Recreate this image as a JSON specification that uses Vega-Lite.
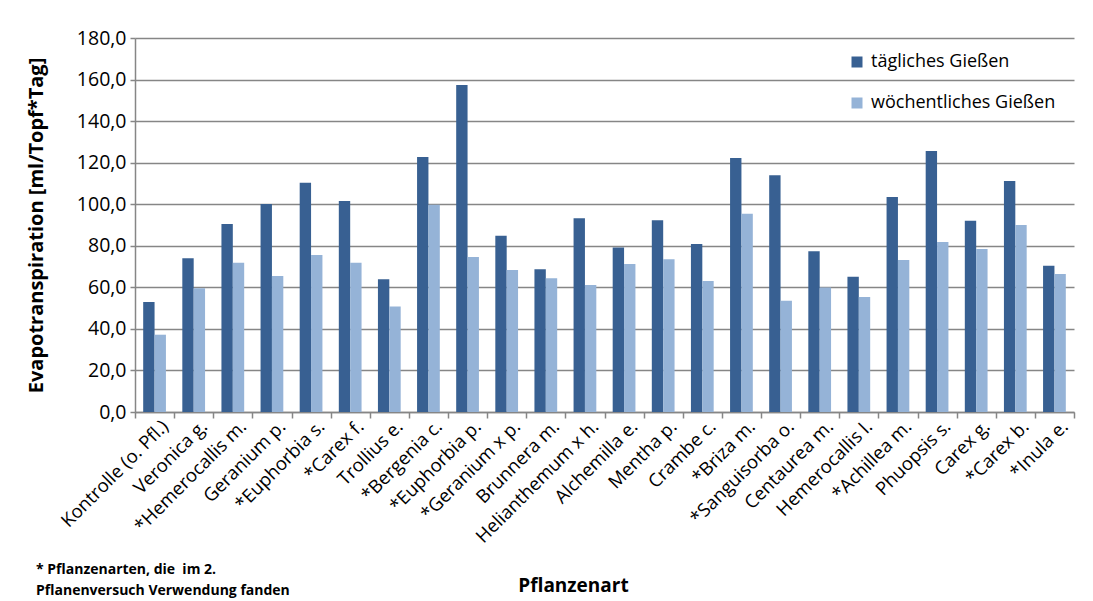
{
  "$schema": "https://vega.github.io/schema/vega-lite/v6.json",
  "width": 939,
  "height": 374,
  "autosize": {"type": "none"},
  "padding": {"left": 135, "top": 38, "right": 19, "bottom": 189},
  "background": "white",
  "config": {
    "locale": {"number": {"decimal": ",", "thousands": ".", "grouping": [3], "currency": ["", " €"]}},
    "font": "Open Sans",
    "view": {"stroke": null}
  },
  "title": {
    "text": ["* Pflanzenarten, die\u00a0 im 2.", "Pflanenversuch Verwendung fanden"],
    "orient": "bottom",
    "anchor": "start",
    "frame": "group",
    "dx": -99,
    "offset": -32,
    "font": "Open Sans",
    "fontSize": 14,
    "fontWeight": "bold",
    "lineHeight": 21,
    "color": "#000000"
  },
  "data": {
    "values": [
      {"art": "Kontrolle (o. Pfl.)", "serie": "tägliches Gießen", "wert": 53.0},
      {"art": "Kontrolle (o. Pfl.)", "serie": "wöchentliches Gießen", "wert": 37.2},
      {"art": "Veronica g.", "serie": "tägliches Gießen", "wert": 74.0},
      {"art": "Veronica g.", "serie": "wöchentliches Gießen", "wert": 59.5},
      {"art": "*Hemerocallis m.", "serie": "tägliches Gießen", "wert": 90.5},
      {"art": "*Hemerocallis m.", "serie": "wöchentliches Gießen", "wert": 71.8},
      {"art": "Geranium p.", "serie": "tägliches Gießen", "wert": 100.1},
      {"art": "Geranium p.", "serie": "wöchentliches Gießen", "wert": 65.4},
      {"art": "*Euphorbia s.", "serie": "tägliches Gießen", "wert": 110.3},
      {"art": "*Euphorbia s.", "serie": "wöchentliches Gießen", "wert": 75.6},
      {"art": "*Carex f.", "serie": "tägliches Gießen", "wert": 101.5},
      {"art": "*Carex f.", "serie": "wöchentliches Gießen", "wert": 71.8},
      {"art": "Trollius e.", "serie": "tägliches Gießen", "wert": 63.9},
      {"art": "Trollius e.", "serie": "wöchentliches Gießen", "wert": 50.8},
      {"art": "*Bergenia c.", "serie": "tägliches Gießen", "wert": 122.7},
      {"art": "*Bergenia c.", "serie": "wöchentliches Gießen", "wert": 99.7},
      {"art": "*Euphorbia p.", "serie": "tägliches Gießen", "wert": 157.4},
      {"art": "*Euphorbia p.", "serie": "wöchentliches Gießen", "wert": 74.6},
      {"art": "*Geranium x p.", "serie": "tägliches Gießen", "wert": 84.8},
      {"art": "*Geranium x p.", "serie": "wöchentliches Gießen", "wert": 68.4},
      {"art": "Brunnera m.", "serie": "tägliches Gießen", "wert": 68.7},
      {"art": "Brunnera m.", "serie": "wöchentliches Gießen", "wert": 64.4},
      {"art": "Helianthemum x h.", "serie": "tägliches Gießen", "wert": 93.2},
      {"art": "Helianthemum x h.", "serie": "wöchentliches Gießen", "wert": 61.1},
      {"art": "Alchemilla e.", "serie": "tägliches Gießen", "wert": 79.2},
      {"art": "Alchemilla e.", "serie": "wöchentliches Gießen", "wert": 71.2},
      {"art": "Mentha p.", "serie": "tägliches Gießen", "wert": 92.3},
      {"art": "Mentha p.", "serie": "wöchentliches Gießen", "wert": 73.5},
      {"art": "Crambe c.", "serie": "tägliches Gießen", "wert": 80.9},
      {"art": "Crambe c.", "serie": "wöchentliches Gießen", "wert": 63.1},
      {"art": "*Briza m.", "serie": "tägliches Gießen", "wert": 122.2},
      {"art": "*Briza m.", "serie": "wöchentliches Gießen", "wert": 95.4},
      {"art": "*Sanguisorba o.", "serie": "tägliches Gießen", "wert": 114.0},
      {"art": "*Sanguisorba o.", "serie": "wöchentliches Gießen", "wert": 53.5},
      {"art": "Centaurea m.", "serie": "tägliches Gießen", "wert": 77.4},
      {"art": "Centaurea m.", "serie": "wöchentliches Gießen", "wert": 59.9},
      {"art": "Hemerocallis l.", "serie": "tägliches Gießen", "wert": 65.1},
      {"art": "Hemerocallis l.", "serie": "wöchentliches Gießen", "wert": 55.4},
      {"art": "*Achillea m.", "serie": "tägliches Gießen", "wert": 103.5},
      {"art": "*Achillea m.", "serie": "wöchentliches Gießen", "wert": 73.1},
      {"art": "Phuopsis s.", "serie": "tägliches Gießen", "wert": 125.6},
      {"art": "Phuopsis s.", "serie": "wöchentliches Gießen", "wert": 81.8},
      {"art": "Carex g.", "serie": "tägliches Gießen", "wert": 92.0},
      {"art": "Carex g.", "serie": "wöchentliches Gießen", "wert": 78.4},
      {"art": "*Carex b.", "serie": "tägliches Gießen", "wert": 111.2},
      {"art": "*Carex b.", "serie": "wöchentliches Gießen", "wert": 90.0},
      {"art": "*Inula e.", "serie": "tägliches Gießen", "wert": 70.4},
      {"art": "*Inula e.", "serie": "wöchentliches Gießen", "wert": 66.4}
    ]
  },
  "mark": {"type": "bar"},
  "encoding": {
    "x": {
      "field": "art",
      "type": "nominal",
      "sort": null,
      "scale": {"paddingInner": 0, "paddingOuter": 0},
      "axis": {
        "title": "Pflanzenart",
        "titleFont": "Open Sans",
        "titleFontSize": 19,
        "titleFontWeight": "bold",
        "titleColor": "#000000",
        "titleX": 438,
        "titleY": 164,
        "labelAngle": -45,
        "labelAlign": "right",
        "labelBaseline": "middle",
        "labelFont": "Open Sans",
        "labelFontSize": 18.5,
        "labelColor": "#000000",
        "labelPadding": 5,
        "labelOffset": 10,
        "labelOverlap": false,
        "labelLimit": 300,
        "tickBand": "extent",
        "tickSize": 6,
        "tickColor": "#868686",
        "tickWidth": 1.5,
        "domainColor": "#868686",
        "domainWidth": 1.5,
        "grid": false
      }
    },
    "xOffset": {
      "field": "serie",
      "type": "nominal",
      "sort": ["tägliches Gießen", "wöchentliches Gießen"],
      "scale": {"paddingInner": 0, "paddingOuter": 0.72}
    },
    "y": {
      "field": "wert",
      "type": "quantitative",
      "scale": {"domain": [0, 180], "nice": false},
      "axis": {
        "title": "Evapotranspiration [ml/Topf*Tag]",
        "titleFont": "Open Sans",
        "titleFontSize": 20,
        "titleFontWeight": "bold",
        "titleColor": "#000000",
        "titlePadding": 30,
        "values": [0, 20, 40, 60, 80, 100, 120, 140, 160, 180],
        "format": ".1f",
        "labelFont": "Open Sans",
        "labelFontSize": 19.5,
        "labelColor": "#000000",
        "labelPadding": 4,
        "tickSize": 5,
        "tickColor": "#868686",
        "tickWidth": 1.5,
        "domainColor": "#868686",
        "domainWidth": 1.5,
        "gridColor": "#868686",
        "gridWidth": 1.5
      }
    },
    "color": {
      "field": "serie",
      "type": "nominal",
      "scale": {
        "domain": ["tägliches Gießen", "wöchentliches Gießen"],
        "range": ["#386092", "#95B3D7"]
      },
      "legend": {
        "title": null,
        "orient": "none",
        "legendX": 713,
        "legendY": 15,
        "symbolType": "square",
        "symbolSize": 121,
        "symbolStrokeWidth": 0,
        "labelFont": "Open Sans",
        "labelFontSize": 18,
        "labelColor": "#000000",
        "labelOffset": 5,
        "labelLimit": 400,
        "rowPadding": 23
      }
    }
  }
}
